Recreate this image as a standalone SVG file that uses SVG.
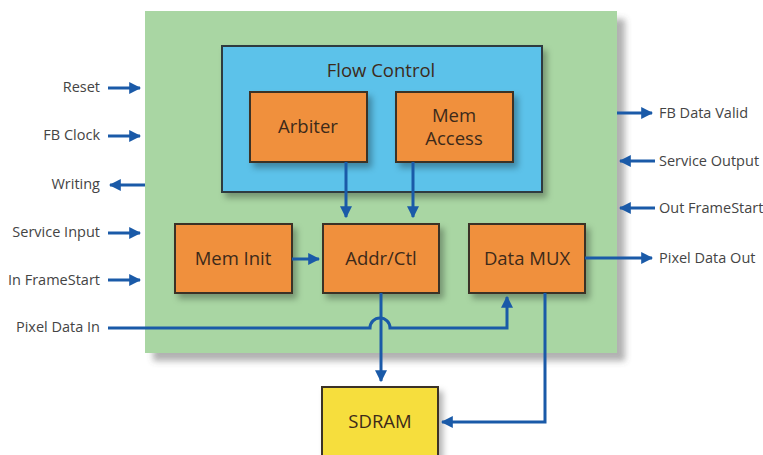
<svg xmlns="http://www.w3.org/2000/svg" width="763" height="455" viewBox="0 0 763 455">
<defs>
<filter id="sh" x="-10%" y="-10%" width="130%" height="140%">
<feDropShadow dx="4" dy="5" stdDeviation="3" flood-color="#000" flood-opacity="0.3"/>
</filter>
<filter id="shg" x="-5%" y="-5%" width="115%" height="115%">
<feDropShadow dx="8" dy="8" stdDeviation="3" flood-color="#555" flood-opacity="0.45"/>
</filter>
<marker id="ah" viewBox="0 0 10 10" refX="9" refY="5" markerWidth="4" markerHeight="4" orient="auto" markerUnits="strokeWidth">
<path d="M0,0 L10,5 L0,10 z" fill="#1a5aa8"/>
</marker>
</defs>
<style>
.lbl{font-family:"Open Sans","Noto Sans",sans-serif;font-size:14.5px;fill:#444}
.bt{font-family:"Open Sans","Noto Sans",sans-serif;font-size:18.5px;fill:#3d2a1a;text-anchor:middle}
.box{fill:#f0903c;stroke:#3a3328;stroke-width:2}
.ln{stroke:#1a5aa8;stroke-width:3;fill:none}
.ar{stroke:#1a5aa8;stroke-width:3;fill:none;marker-end:url(#ah)}
</style>
<rect width="763" height="455" fill="#fff"/>
<g id="fb">
<rect x="145" y="11" width="472" height="342" fill="#a9d6a3" filter="url(#shg)"/>
</g>
<g id="flow-control">
<rect x="222" y="46" width="320" height="146" fill="#5cc2ea" stroke="#2d3a40" stroke-width="2" filter="url(#sh)"/>
<text class="bt" x="381" y="77">Flow Control</text>
</g>
<g id="arbiter">
<rect class="box" x="250" y="92" width="117" height="70" filter="url(#sh)"/>
<text class="bt" x="308" y="133">Arbiter</text>
</g>
<g id="mem-access">
<rect class="box" x="396" y="92" width="117" height="70" filter="url(#sh)"/>
<text class="bt" x="454" y="122">Mem</text>
<text class="bt" x="454" y="145">Access</text>
</g>
<g id="mem-init">
<rect class="box" x="175" y="224" width="117" height="69" filter="url(#sh)"/>
<text class="bt" x="233" y="265">Mem Init</text>
</g>
<g id="addr-ctl">
<rect class="box" x="323" y="224" width="116" height="69" filter="url(#sh)"/>
<text class="bt" x="381" y="265">Addr/Ctl</text>
</g>
<g id="data-mux">
<rect class="box" x="469" y="224" width="116" height="69" filter="url(#sh)"/>
<text class="bt" x="527" y="265">Data MUX</text>
</g>
<g id="sdram">
<rect x="322" y="387" width="116" height="80" fill="#f6de3c" stroke="#3a3328" stroke-width="2" filter="url(#sh)"/>
<text class="bt" x="380" y="428">SDRAM</text>
</g>
<g id="connectors">
<line class="ar" x1="346" y1="162" x2="346" y2="217"/>
<line class="ar" x1="413" y1="162" x2="413" y2="217"/>
<line class="ar" x1="292" y1="259" x2="319" y2="259"/>
<line class="ar" x1="381" y1="293" x2="381" y2="381"/>
<path class="ar" d="M545,293 V422 H442"/>
<path class="ar" d="M108,328 H370 A10,10 0 0 1 390,328 H507 V297"/>
<line class="ar" x1="585" y1="258" x2="652" y2="258"/>
<line class="ar" x1="617" y1="113" x2="652" y2="113"/>
<line class="ar" x1="655" y1="161" x2="620" y2="161"/>
<line class="ar" x1="655" y1="208" x2="620" y2="208"/>
<line class="ar" x1="108" y1="88" x2="140" y2="88"/>
<line class="ar" x1="108" y1="136" x2="140" y2="136"/>
<line class="ar" x1="145" y1="185" x2="110" y2="185"/>
<line class="ar" x1="108" y1="233" x2="140" y2="233"/>
<line class="ar" x1="108" y1="280" x2="140" y2="280"/>
</g>
<g id="labels">
<text class="lbl" x="100" y="92" text-anchor="end">Reset</text>
<text class="lbl" x="100" y="140" text-anchor="end">FB Clock</text>
<text class="lbl" x="100" y="189" text-anchor="end">Writing</text>
<text class="lbl" x="100" y="237" text-anchor="end">Service Input</text>
<text class="lbl" x="100" y="285" text-anchor="end">In FrameStart</text>
<text class="lbl" x="100" y="332" text-anchor="end">Pixel Data In</text>
<text class="lbl" x="659" y="118">FB Data Valid</text>
<text class="lbl" x="659" y="166">Service Output</text>
<text class="lbl" x="659" y="213">Out FrameStart</text>
<text class="lbl" x="659" y="263">Pixel Data Out</text>
</g>
</svg>
